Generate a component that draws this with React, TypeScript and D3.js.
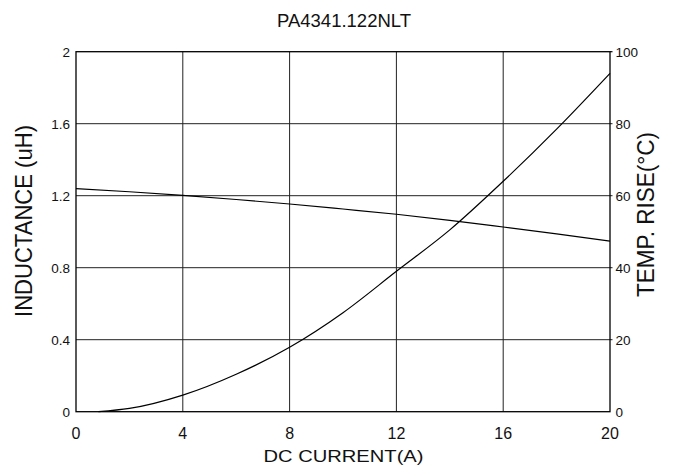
import React, { useEffect } from "react";
import * as d3 from "d3";

const xTicks = [0, 4, 8, 12, 16, 20];
const yLeftTicks = [0, 0.4, 0.8, 1.2, 1.6, 2];
const yLeftLabels = ["0", "0.4", "0.8", "1.2", "1.6", "2"];
const yRightTicks = [0, 20, 40, 60, 80, 100];

const indCurrent = [0, 2, 4, 6, 8, 10, 12, 14, 16, 18, 20];
const indValues = [1.239, 1.222, 1.202, 1.179, 1.154, 1.126, 1.097, 1.063, 1.026, 0.988, 0.948];

const tempCurrent = [0.84, 2, 4, 6, 8, 10, 12, 14, 16, 18, 20];
const tempValues = [0, 0.9, 4.6, 10.4, 17.9, 27.5, 39, 50.5, 64, 78.5, 94];

const W = 673;
const H = 473;
const M = { left: 76, right: 610, top: 51.7, bottom: 411.7 };

export default function App() {
  useEffect(() => {
    document.body.style.margin = "0";
  }, []);

  const x = d3.scaleLinear().domain([0, 20]).range([M.left, M.right]);
  const yL = d3.scaleLinear().domain([0, 2]).range([M.bottom, M.top]);
  const yR = d3.scaleLinear().domain([0, 100]).range([M.bottom, M.top]);

  const indLine = d3
    .line<number>()
    .x((_, i) => x(indCurrent[i]))
    .y((d) => yL(d))
    .curve(d3.curveMonotoneX)(indValues) as string;

  const tempLine = d3
    .line<number>()
    .x((_, i) => x(tempCurrent[i]))
    .y((d) => yR(d))
    .curve(d3.curveMonotoneX)(tempValues) as string;

  const font = "Arial, 'Liberation Sans', sans-serif";

  return (
    <svg width={W} height={H} style={{ display: "block", background: "#fff" }} fontFamily={font}>
      <rect x={0} y={0} width={W} height={H} fill="#fff" />
      {/* grid */}
      {xTicks.slice(1, -1).map((t) => (
        <line key={"gx" + t} x1={x(t)} x2={x(t)} y1={M.top} y2={M.bottom} stroke="#222" strokeWidth={1} />
      ))}
      {yLeftTicks.slice(1, -1).map((t) => (
        <line key={"gy" + t} x1={M.left} x2={M.right + 2.5} y1={yL(t)} y2={yL(t)} stroke="#222" strokeWidth={1} />
      ))}
      <line x1={M.right} x2={M.right + 2.5} y1={M.top} y2={M.top} stroke="#000" strokeWidth={1.2} />
      <rect x={M.left} y={M.top} width={M.right - M.left} height={M.bottom - M.top} fill="none" stroke="#000" strokeWidth={1.3} />

      {/* curves */}
      <path d={indLine} fill="none" stroke="#000" strokeWidth={1.2} />
      <path d={tempLine} fill="none" stroke="#000" strokeWidth={1.2} />

      {/* left tick labels */}
      {yLeftTicks.map((t, i) => (
        <text key={"yl" + t} x={M.left - 6} y={yL(t)} dy="0.36em" textAnchor="end" fontSize={13.5} fill="#111">
          {yLeftLabels[i]}
        </text>
      ))}
      {/* right tick labels */}
      {yRightTicks.map((t) => (
        <text key={"yr" + t} x={M.right + 5.5} y={yR(t)} dy="0.36em" textAnchor="start" fontSize={13.5} fill="#111">
          {t}
        </text>
      ))}
      {/* bottom tick labels */}
      {xTicks.map((t) => (
        <text key={"xb" + t} x={x(t)} y={439} textAnchor="middle" fontSize={16} fill="#111">
          {t}
        </text>
      ))}

      {/* titles */}
      <text x={344} y={26.5} textAnchor="middle" fontSize={18.5} fill="#111">
        PA4341.122NLT
      </text>
      <text
        x={343.5}
        y={462}
        textAnchor="middle"
        fontSize={17}
        fill="#111"
        textLength={160}
        lengthAdjust="spacingAndGlyphs"
      >
        DC CURRENT(A)
      </text>
      <text
        transform={`translate(${31.5},${221}) rotate(-90)`}
        textAnchor="middle"
        fontSize={24}
        fill="#111"
        textLength={192}
        lengthAdjust="spacingAndGlyphs"
      >
        INDUCTANCE (uH)
      </text>
      <text
        transform={`translate(${654},${214.5}) rotate(-90)`}
        textAnchor="middle"
        fontSize={24}
        fill="#111"
        textLength={165}
        lengthAdjust="spacingAndGlyphs"
      >
        TEMP. RISE(°C)
      </text>
    </svg>
  );
}
